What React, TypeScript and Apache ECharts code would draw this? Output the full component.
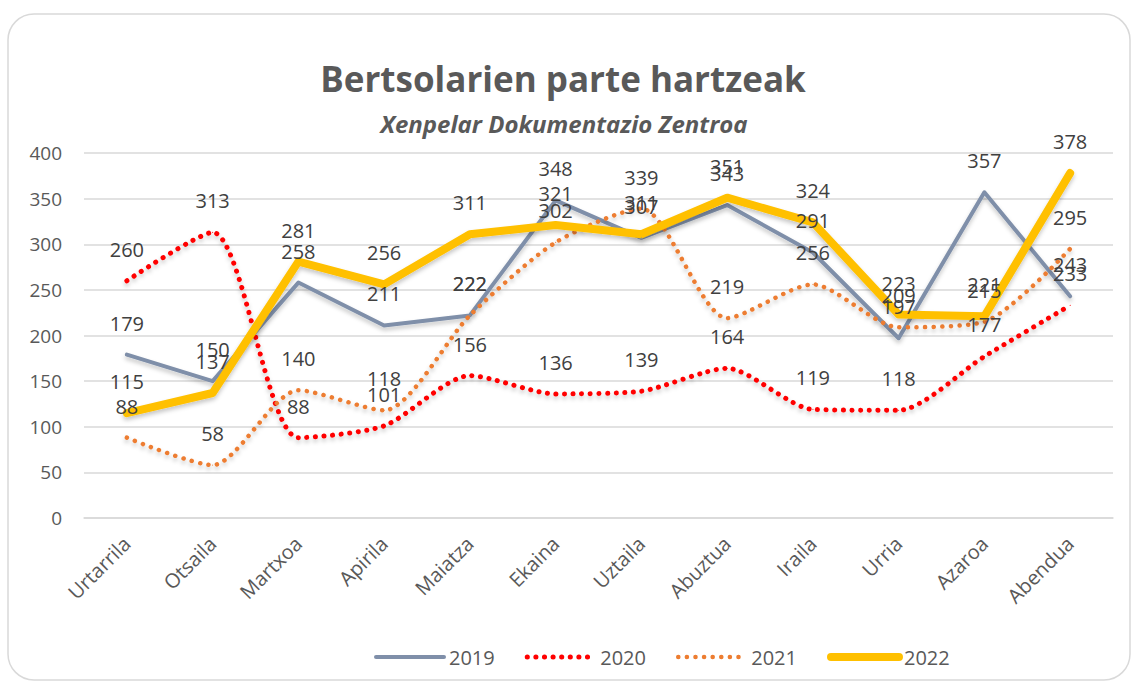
import React, { useEffect, useRef } from "react";
import * as echarts from "echarts";

const months = ["Urtarrila", "Otsaila", "Martxoa", "Apirila", "Maiatza", "Ekaina", "Uztaila", "Abuztua", "Iraila", "Urria", "Azaroa", "Abendua"];
const y2019 = [179, 150, 258, 211, 222, 348, 307, 343, 291, 197, 357, 243];
const y2020 = [260, 313, 88, 101, 156, 136, 139, 164, 119, 118, 177, 233];
const y2021 = [88, 58, 140, 118, 222, 302, 339, 219, 256, 209, 215, 295];
const y2022 = [115, 137, 281, 256, 311, 321, 311, 351, 324, 223, 221, 378];

const FONT = "'Open Sans', 'Noto Sans', sans-serif";

export default function App() {
  const ref = useRef<HTMLDivElement>(null);
  useEffect(() => {
    document.body.style.margin = "0";
    const chart = echarts.init(ref.current!, null, { renderer: "svg" });
    const label = {
      show: true,
      position: "top" as const,
      distance: 21,
      color: "#404040",
      fontSize: 20,
      fontFamily: FONT,
    };
    const shadow = { shadowColor: "rgba(0,0,0,0.22)", shadowBlur: 4, shadowOffsetY: 3 };
    const mk = (name: string, data: number[], color: string, width: number, type: any, smooth: number | boolean) => ({
      name,
      type: "line",
      data,
      symbol: "circle",
      symbolSize: 1,
      smooth,
      itemStyle: { color },
      lineStyle: { color, width, type, cap: "round", join: "round", ...shadow },
      label,
      emphasis: { disabled: true },
    });
    chart.setOption({
      animation: false,
      title: [
        {
          text: "Bertsolarien parte hartzeak",
          left: 558,
          top: 56,
          textAlign: "center",
          textStyle: { fontFamily: FONT, fontSize: 35, fontWeight: "bold", color: "#595959" },
        },
        {
          text: "Xenpelar Dokumentazio Zentroa",
          left: 559,
          top: 106,
          textAlign: "center",
          textStyle: { fontFamily: FONT, fontSize: 24, fontWeight: "bold", fontStyle: "italic", color: "#595959" },
        },
      ],
      graphic: [
        {
          type: "rect",
          shape: { x: 8, y: 14, width: 1122, height: 666, r: 26 },
          style: { fill: "none", stroke: "#d9d9d9", lineWidth: 1.5 },
          silent: true,
        },
      ],
      legend: {
        left: 369,
        top: 642,
        itemWidth: 68,
        itemHeight: 14,
        itemGap: 30,
        textStyle: { fontFamily: FONT, fontSize: 20, color: "#595959" },
        itemStyle: { opacity: 0 },
        data: [
          { name: "2019", lineStyle: { width: 4 } },
          { name: "2020", lineStyle: { width: 5 } },
          { name: "2021", lineStyle: { width: 4.5 } },
          { name: "2022", lineStyle: { width: 8 } },
        ],
      },
      grid: { left: 84, right: 18, top: 153, bottom: 166, containLabel: false },
      xAxis: {
        type: "category",
        data: months,
        boundaryGap: true,
        axisLine: { show: true, lineStyle: { color: "#d9d9d9", width: 1.5 } },
        axisTick: { show: false },
        axisLabel: { rotate: 45, color: "#595959", fontSize: 20, fontFamily: FONT, margin: 22 },
      },
      yAxis: {
        type: "value",
        min: 0,
        max: 400,
        interval: 50,
        axisLine: { show: false },
        axisTick: { show: false },
        splitLine: { lineStyle: { color: "#d9d9d9", width: 1.5 } },
        axisLabel: { color: "#595959", fontSize: 19, fontFamily: FONT, margin: 22 },
      },
      series: [
        mk("2019", y2019, "#7F8FA9", 4, "solid", false),
        mk("2020", y2020, "#FF0000", 5, [0.1, 8.5], 0.25),
        mk("2021", y2021, "#ED7D31", 4.5, [0.1, 8.5], 0.25),
        mk("2022", y2022, "#FFC000", 8, "solid", false),
      ],
    });
    return () => chart.dispose();
  }, []);
  return <div ref={ref} style={{ width: 1131, height: 684, overflow: "hidden" }} />;
}
